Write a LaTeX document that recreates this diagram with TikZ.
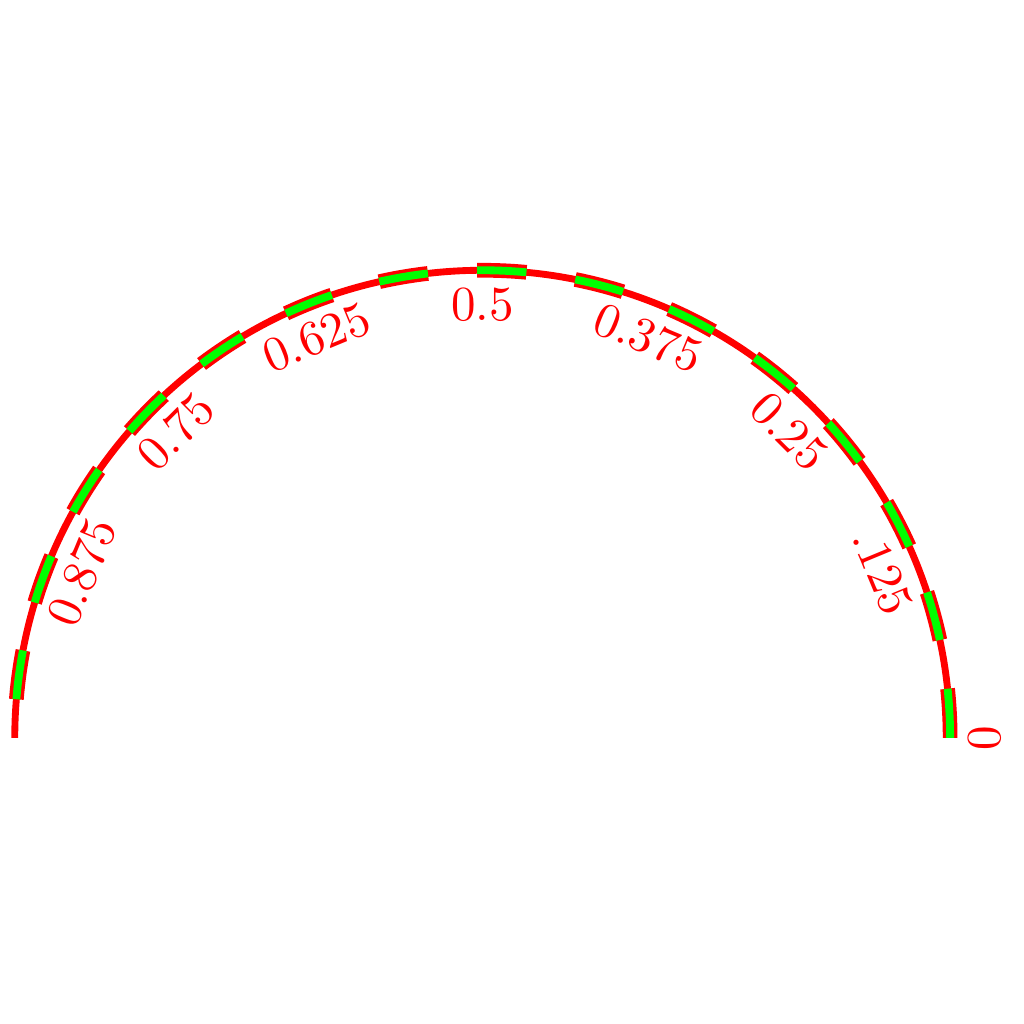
\documentclass[tikz,border=0pt]{standalone}
\usepackage{tikz}

\begin{document}
\begin{tikzpicture}[
    rim/.style={red, line width=1.4pt},
    rimdash/.style={red, line width=0.7pt, double=green, double distance=1.6pt, dash pattern=on 10.07pt off 10.07pt},
    lbl/.style={red, sloped, below}]
      \useasboundingbox (-3.461,-2.052) rectangle (3.885,5.294);

      % Half circle
      \draw[rim] (3.355,0) arc[start angle=0, end angle=180, radius=3.355];
      \draw[rimdash] (3.355,0) arc[start angle=0, end angle=180, radius=3.355];

      % Labels
      \path (3.355,0) arc[start angle=0, end angle=180, radius=3.355]
        foreach \p/\t [count=\i] in {0/0, 0.125/.125, 0.25/0.25, 0.375/0.375, 0.5/0.5, 0.625/0.625, 0.75/0.75, 0.875/0.875}
          {node[lbl, pos=\p] (l\i) {\t}};
    \end{tikzpicture}
\end{document}
